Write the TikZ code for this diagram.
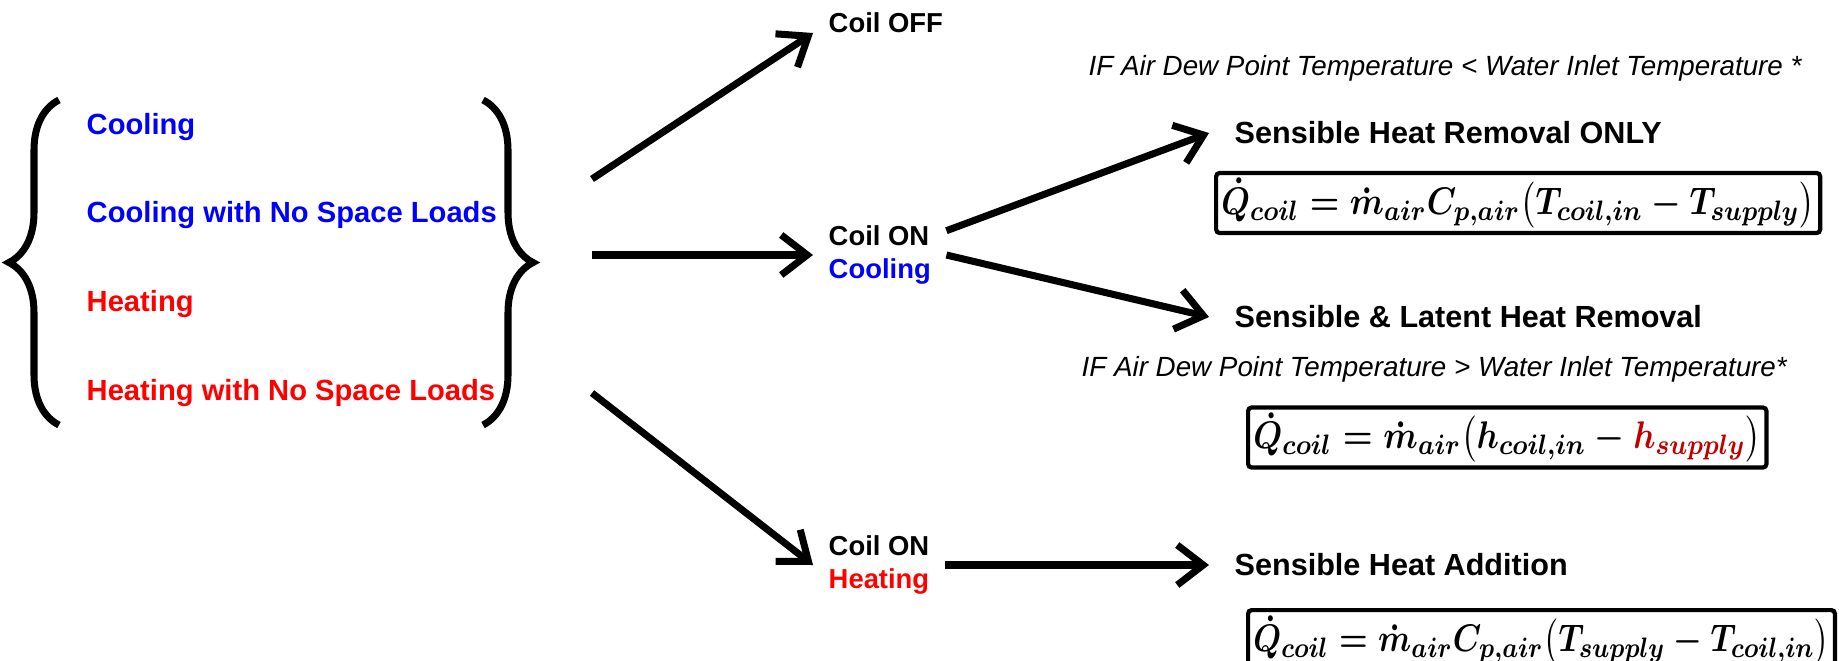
\documentclass[tikz,border=0pt]{standalone}
\usepackage{fontspec}
\setmainfont{Liberation Sans}
\usepackage{amsmath}
\usepackage{graphicx}
\usepackage{xcolor}
\usepackage{tikz}
\usetikzlibrary{arrows.meta,decorations.pathreplacing}
\definecolor{coolblue}{RGB}{0,0,255}
\definecolor{heatred}{RGB}{255,0,0}
\definecolor{darkred}{RGB}{192,0,0}
\newcommand{\eqn}[2][0.86]{\scalebox{#1}[1]{$#2$}}

\begin{document}
\begin{tikzpicture}[
      mode/.style={anchor=west, inner sep=0pt, font=\fontsize{8.3}{10}\selectfont\bfseries},
      coil/.style={anchor=west, inner sep=1.5mm, align=left, font=\fontsize{7.8}{9.5}\selectfont\bfseries},
      result/.style={anchor=west, inner sep=2.5mm, font=\fontsize{8.7}{10}\selectfont\bfseries},
      cond/.style={anchor=west, inner sep=0pt, font=\fontsize{7.9}{9.5}\selectfont\itshape},
      formula/.style={draw, line width=1.2pt, rounded corners=1pt, inner sep=1.5pt, minimum height=0.58cm, font=\fontsize{11}{13}\selectfont\boldmath},
      bracestyle/.style={line width=2pt, decorate, decoration={brace, amplitude=0.5cm}},
      arrowstyle/.style={-{Straight Barb[length=2.6mm, width=4mm]}, line width=2pt}
    ]
    \useasboundingbox (0,0) rectangle (18.39,6.60);

    \node[mode, text=coolblue] (cool) at (0.86,5.33) {Cooling};
    \node[mode, text=coolblue] (coolnl) at (0.86,4.45) {Cooling with No Space Loads};
    \node[mode, text=heatred] (heat) at (0.86,3.56) {Heating};
    \node[mode, text=heatred] (heatnl) at (0.86,2.67) {Heating with No Space Loads};

    \coordinate (lbot) at (0.59,2.35);
    \coordinate (ltop) at (0.59,5.60);
    \coordinate (rtop) at (4.83,5.60);
    \coordinate (rbot) at (4.83,2.35);
    \draw[bracestyle] (lbot) -- (ltop);
    \draw[bracestyle] (rtop) -- (rbot);

    \coordinate (s1) at (5.92,4.81);
    \coordinate (s2) at (5.92,4.05);
    \coordinate (s3) at (5.92,2.67);

    \node[coil] (coff) at (8.13,6.37) {Coil OFF};
    \node[coil] (coon) at (8.13,4.05) {Coil ON\\\textcolor{coolblue}{Cooling}};
    \node[coil] (coh) at (8.13,0.95) {Coil ON\\\textcolor{heatred}{Heating}};

    \node[cond] (dry) at (10.88,5.92) {IF Air Dew Point Temperature < Water Inlet Temperature *};
    \node[result] (shr) at (12.09,5.27) {Sensible Heat Removal ONLY};
    \node[formula, anchor=west] (eq1) at (12.14,4.57) {\eqn{\dot{Q}_{coil} = \dot{m}_{air}C_{p,air}\bigl(T_{coil,in} - T_{supply}\bigr)}};
    \node[result] (slr) at (12.09,3.43) {Sensible \& Latent Heat Removal};
    \node[cond] (wet) at (10.81,2.91) {IF Air Dew Point Temperature > Water Inlet Temperature*};
    \node[formula, anchor=west] (eq2) at (12.46,2.225) {\eqn[0.87]{\dot{Q}_{coil} = \dot{m}_{air}\bigl(h_{coil,in} - \textcolor{darkred}{h_{supply}}\bigr)}};
    \node[result] (sha) at (12.09,0.95) {Sensible Heat Addition};
    \node[formula, anchor=north west] (eq3) at (12.46,0.52) {\eqn[0.835]{\dot{Q}_{coil} = \dot{m}_{air}C_{p,air}\bigl(T_{supply} - T_{coil,in}\bigr)}};

    \draw[arrowstyle] (s1) -- ([yshift=-1mm]coff.west);
    \draw[arrowstyle] (s2) -- (coon.west);
    \draw[arrowstyle] (s3) -- (coh.west);
    \draw[arrowstyle] (coon.20) -- (shr.west);
    \draw[arrowstyle] (coon.east) -- (slr.west);
    \draw[arrowstyle] (coh.east) -- (sha.west);
  \end{tikzpicture}
\end{document}
